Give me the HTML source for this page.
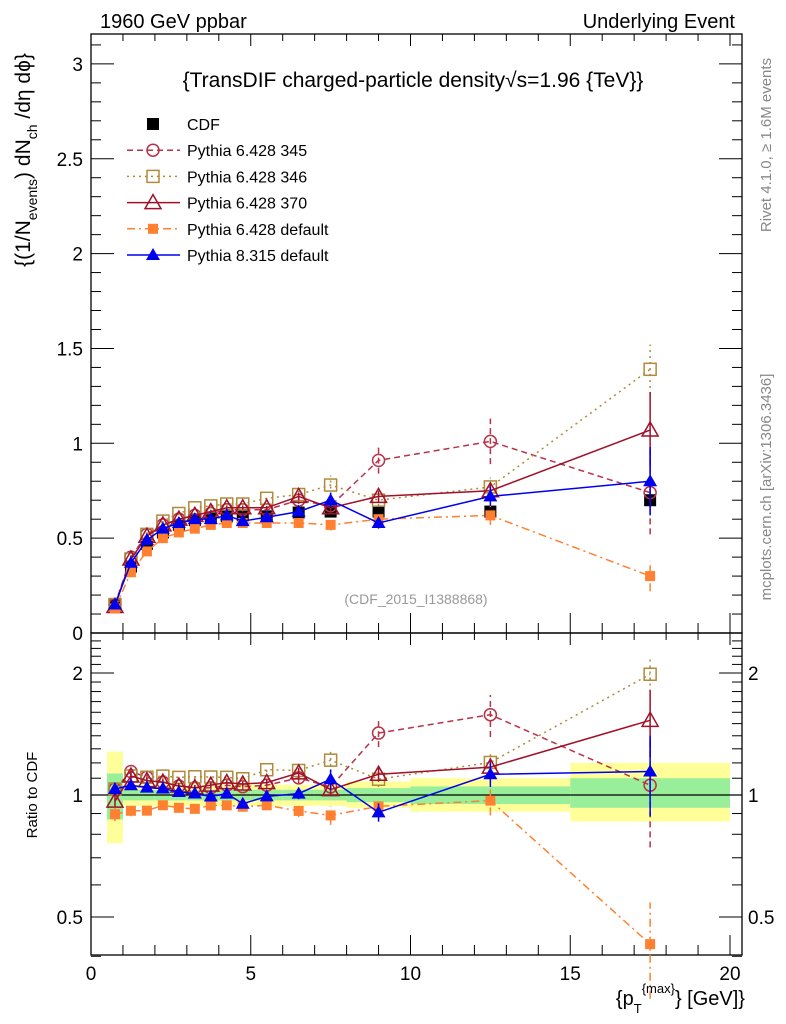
<!DOCTYPE html>
<html><head><meta charset="utf-8"><style>
html,body{margin:0;padding:0;background:#fff;}
svg{display:block;font-family:"Liberation Sans",sans-serif;}
</style></head><body>
<svg id="chart" width="786" height="1024" xmlns="http://www.w3.org/2000/svg"></svg>
<script>
const xs = [0.75,1.25,1.75,2.25,2.75,3.25,3.75,4.25,4.75,5.5,6.5,7.5,9,12.5,17.5];
const binLo = [0.5,1,1.5,2,2.5,3,3.5,4,4.5,5,6,7,8,10,15];
const binHi = [1,1.5,2,2.5,3,3.5,4,4.5,5,6,7,8,10,15,20];
const cdf = [0.145,0.35,0.47,0.53,0.57,0.595,0.605,0.615,0.62,0.615,0.635,0.64,0.64,0.64,0.70];
const cdfErr = [0.005,0.01,0.01,0.01,0.01,0.01,0.01,0.01,0.01,0.01,0.01,0.01,0.01,0.02,0.04];
const yellowHi = [1.28,1.06,1.06,1.06,1.06,1.06,1.06,1.06,1.06,1.06,1.06,1.06,1.08,1.10,1.20];
const yellowLo = [0.76,0.94,0.94,0.94,0.94,0.94,0.94,0.94,0.94,0.94,0.94,0.94,0.93,0.91,0.86];
const greenHi = [1.13,1.03,1.03,1.03,1.03,1.03,1.03,1.03,1.03,1.03,1.03,1.03,1.04,1.05,1.10];
const greenLo = [0.87,0.97,0.97,0.97,0.97,0.97,0.97,0.97,0.97,0.97,0.97,0.97,0.96,0.95,0.93];
const p345 = [0.15,0.40,0.52,0.57,0.60,0.62,0.63,0.65,0.65,0.65,0.70,0.67,0.91,1.01,0.74];
const p345Err = [0.005,0.01,0.01,0.01,0.01,0.01,0.01,0.01,0.01,0.01,0.02,0.02,0.07,0.12,0.22];
const p346 = [0.15,0.39,0.52,0.59,0.63,0.66,0.67,0.68,0.68,0.71,0.73,0.78,0.70,0.77,1.39];
const p346Err = [0.005,0.01,0.01,0.01,0.01,0.01,0.01,0.01,0.01,0.01,0.02,0.05,0.03,0.05,0.13];
const p370 = [0.14,0.39,0.51,0.57,0.60,0.62,0.64,0.66,0.66,0.66,0.72,0.66,0.72,0.75,1.07];
const p370Err = [0.005,0.01,0.01,0.01,0.01,0.01,0.01,0.01,0.01,0.01,0.02,0.02,0.03,0.04,0.2];
const pdef = [0.13,0.32,0.43,0.50,0.53,0.55,0.57,0.58,0.58,0.58,0.58,0.57,0.60,0.62,0.30];
const pdefErr = [0.005,0.01,0.01,0.01,0.01,0.01,0.01,0.01,0.01,0.01,0.02,0.03,0.02,0.05,0.08];
const p8 = [0.15,0.37,0.49,0.55,0.58,0.60,0.60,0.62,0.59,0.61,0.64,0.70,0.58,0.72,0.80];
const p8Err = [0.005,0.01,0.01,0.01,0.01,0.01,0.01,0.01,0.01,0.01,0.02,0.04,0.03,0.05,0.18];
const mainTicks = [0,0.5,1,1.5,2,2.5,3];
const mainTickLabels = ["0","0.5","1","1.5","2","2.5","3"];
const ratioTicks = [0.5,1,2];
const ratioTickLabels = ["0.5","1","2"];
const xTicks = [0,5,10,15,20];
const xTickLabels = ["0","5","10","15","20"];

const L=91,R=742,MT=34,MB=633,RB=955;
const sx=v=>L+v*31.95;
const sy=v=>633-v*189.7;
const sr=v=>795-Math.log2(v)*122;
const svg=document.getElementById('chart');
const NS='http://www.w3.org/2000/svg';
function mk(tag,attrs,parent){const e=document.createElementNS(NS,tag);for(const k in attrs)e.setAttribute(k,attrs[k]);(parent||svg).appendChild(e);return e;}
function txt(s,attrs,name){const e=mk('text',attrs);e.textContent=s;


return e;}

// bands
const bands=mk('g',{});


for(let i=0;i<binLo.length;i++){
 const y=mk('rect',{x:sx(binLo[i]),y:sr(yellowHi[i]),width:sx(binHi[i])-sx(binLo[i]),height:sr(yellowLo[i])-sr(yellowHi[i]),fill:'#ffff99'},bands);
 
 
 const g=mk('rect',{x:sx(binLo[i]),y:sr(greenHi[i]),width:sx(binHi[i])-sx(binLo[i]),height:sr(greenLo[i])-sr(greenHi[i]),fill:'#99ee99'},bands);
 
 
}
mk('line',{x1:L,x2:R,y1:sr(1),y2:sr(1),stroke:'#000','stroke-width':1.2});

// frames
const f1=mk('rect',{x:L,y:MT,width:R-L,height:MB-MT,fill:'none',stroke:'#000','stroke-width':1.3});

const f2=mk('rect',{x:L,y:MB,width:R-L,height:RB-MB,fill:'none',stroke:'#000','stroke-width':1.3});


// main y ticks
for(let v=0;v<=3.15;v+=0.1){const vv=Math.round(v*10)/10;const maj=Math.abs(vv*2-Math.round(vv*2))<1e-6;const l=maj?23:10;const y=sy(vv);if(y<MT)continue;
 mk('line',{x1:L,x2:L+l,y1:y,y2:y,stroke:'#000'});mk('line',{x1:R,x2:R-l,y1:y,y2:y,stroke:'#000'});}
mainTicks.forEach((v,i)=>txt(mainTickLabels[i],{x:L-8,y:sy(v)+7,'text-anchor':'end','font-size':19},'y-tick-label'));
// ratio ticks
[0.4,0.5,0.6,0.7,0.8,0.9,1,1.1,1.2,1.3,1.4,1.5,1.6,1.7,1.8,1.9,2,2.1,2.2,2.3,2.4].forEach(v=>{const maj=ratioTicks.includes(v);const l=maj?23:10;const y=sr(v);if(y<MB)return;
 mk('line',{x1:L,x2:L+l,y1:y,y2:y,stroke:'#000'});mk('line',{x1:R,x2:R-l,y1:y,y2:y,stroke:'#000'});});
ratioTicks.forEach((v,i)=>{txt(ratioTickLabels[i],{x:L-8,y:sr(v)+7,'text-anchor':'end','font-size':19},'ratio-tick-label');
 txt(ratioTickLabels[i],{x:R+6,y:sr(v)+7,'font-size':19},'ratio-tick-label-right');});
// x ticks
for(let v=0;v<=20.5;v++){const maj=v%5===0;const l=maj?20:10;const x=sx(v);if(x>R)continue;
 mk('line',{x1:x,x2:x,y1:RB,y2:RB-l,stroke:'#000'});mk('line',{x1:x,x2:x,y1:MB,y2:MB-l,stroke:'#000'});
 mk('line',{x1:x,x2:x,y1:MB,y2:MB+(maj?12:7),stroke:'#000'});mk('line',{x1:x,x2:x,y1:MT,y2:MT+(maj?12:7),stroke:'#000'});}
xTicks.forEach((v,i)=>txt(xTickLabels[i],{x:sx(v),y:980,'text-anchor':'middle','font-size':19},'x-tick-label'));

// series
const series=[
 {name:'pythia-6428-345',d:p345,e:p345Err,c:'#b8324a',dash:'6,4',m:'circle'},
 {name:'pythia-6428-346',d:p346,e:p346Err,c:'#b08a3a',dash:'2,4',m:'opensq'},
 {name:'pythia-6428-370',d:p370,e:p370Err,c:'#a0102a',dash:'',m:'tri'},
 {name:'pythia-6428-default',d:pdef,e:pdefErr,c:'#ff8030',dash:'8,4,2,4',m:'sq'},
 {name:'pythia-8315-default',d:p8,e:p8Err,c:'#0000ee',dash:'',m:'ftri'}];
function marker(m,x,y,c,g){
 let e;
 if(m==='circle')e=mk('circle',{cx:x,cy:y,r:6,fill:'none',stroke:c,'stroke-width':1.5},g);
 else if(m==='opensq')e=mk('rect',{x:x-6,y:y-6,width:12,height:12,fill:'none',stroke:c,'stroke-width':1.5},g);
 else if(m==='sq')e=mk('rect',{x:x-5,y:y-5,width:10,height:10,fill:c},g);
 else if(m==='blk')e=mk('rect',{x:x-6,y:y-6,width:12,height:12,fill:'#000'},g);
 else if(m==='tri')e=mk('polygon',{points:`${x},${y-8} ${x-8},${y+6} ${x+8},${y+6}`,fill:'none',stroke:c,'stroke-width':1.5},g);
 else e=mk('polygon',{points:`${x},${y-7} ${x-7},${y+5} ${x+7},${y+5}`,fill:c},g);
 
 
}
// CDF data
const cg=mk('g',{});


xs.forEach((x,i)=>{mk('line',{x1:sx(x),x2:sx(x),y1:sy(cdf[i]-cdfErr[i]),y2:sy(cdf[i]+cdfErr[i]),stroke:'#000','stroke-width':1.5},cg);marker('blk',sx(x),sy(cdf[i]),'#000',cg);});
series.forEach(s=>{
 const g=mk('g',{});
 
 
 const pm=xs.map((x,i)=>sx(x)+','+sy(s.d[i])).join(' ');
 mk('polyline',{points:pm,fill:'none',stroke:s.c,'stroke-width':1.5,'stroke-dasharray':s.dash},g);
 const pr=xs.map((x,i)=>sx(x)+','+sr(s.d[i]/cdf[i])).join(' ');
 mk('polyline',{points:pr,fill:'none',stroke:s.c,'stroke-width':1.5,'stroke-dasharray':s.dash},g);
 xs.forEach((x,i)=>{
  mk('line',{x1:sx(x),x2:sx(x),y1:sy(s.d[i]-s.e[i]),y2:sy(s.d[i]+s.e[i]),stroke:s.c,'stroke-width':1.5,'stroke-dasharray':s.dash},g);
  mk('line',{x1:sx(x),x2:sx(x),y1:sr((s.d[i]-s.e[i])/cdf[i]),y2:sr((s.d[i]+s.e[i])/cdf[i]),stroke:s.c,'stroke-width':1.5,'stroke-dasharray':s.dash},g);
  marker(s.m,sx(x),sy(s.d[i]),s.c,g);
  marker(s.m,sx(x),sr(s.d[i]/cdf[i]),s.c,g);
 });
});

// legend
const lg=mk('g',{});


const legItems=[['CDF','blk','#000',''],['Pythia 6.428 345','circle','#b8324a','6,4'],['Pythia 6.428 346','opensq','#b08a3a','2,4'],['Pythia 6.428 370','tri','#a0102a',''],['Pythia 6.428 default','sq','#ff8030','8,4,2,4'],['Pythia 8.315 default','ftri','#0000ee','']];
legItems.forEach((it,i)=>{const y=124+i*26.2;
 if(i>0)mk('line',{x1:127,x2:180,y1:y,y2:y,stroke:it[2],'stroke-width':1.5,'stroke-dasharray':it[3]},lg);
 marker(it[1],153,y,it[2],lg);
 txt(it[0],{x:187,y:y+6,'font-size':16},'legend-entry');});

txt('1960 GeV ppbar',{x:100,y:28,'font-size':20},'top-left-label');
txt('Underlying Event',{x:735,y:28,'font-size':20,'text-anchor':'end'},'top-right-label');
txt('{TransDIF charged-particle density√s=1.96 {TeV}}',{x:413,y:87,'font-size':21,'text-anchor':'middle'},'plot-title');
txt('(CDF_2015_I1388868)',{x:416,y:604,'font-size':14,fill:'#999','text-anchor':'middle'},'analysis-id');
txt('Rivet 4.1.0, ≥ 1.6M events',{x:0,y:0,'font-size':15,fill:'#888','text-anchor':'middle',transform:'translate(771,145) rotate(-90)'},'rivet-label');
txt('mcplots.cern.ch [arXiv:1306.3436]',{x:0,y:0,'font-size':15,fill:'#888','text-anchor':'middle',transform:'translate(771,487) rotate(-90)'},'mcplots-label');
const yt=txt('',{x:0,y:0,'font-size':21,'text-anchor':'middle',transform:'translate(30,160) rotate(-90)'},'y-axis-title');
yt.innerHTML='{(1/N<tspan font-size="14" dy="7">events</tspan><tspan dy="-7">) dN</tspan><tspan font-size="14" dy="7">ch</tspan><tspan dy="-7"> /dη  dϕ}</tspan>';
txt('Ratio to CDF',{x:0,y:0,'font-size':15,'text-anchor':'middle',transform:'translate(37,795) rotate(-90)'},'ratio-axis-title');
const xt=txt('',{x:745,y:1005,'font-size':20,'text-anchor':'end'},'x-axis-title');
xt.innerHTML='{p<tspan font-size="13" dy="8">T</tspan><tspan font-size="13" dy="-20">{max}</tspan><tspan dy="12">} [GeV]}</tspan>';
</script>
</body></html>
